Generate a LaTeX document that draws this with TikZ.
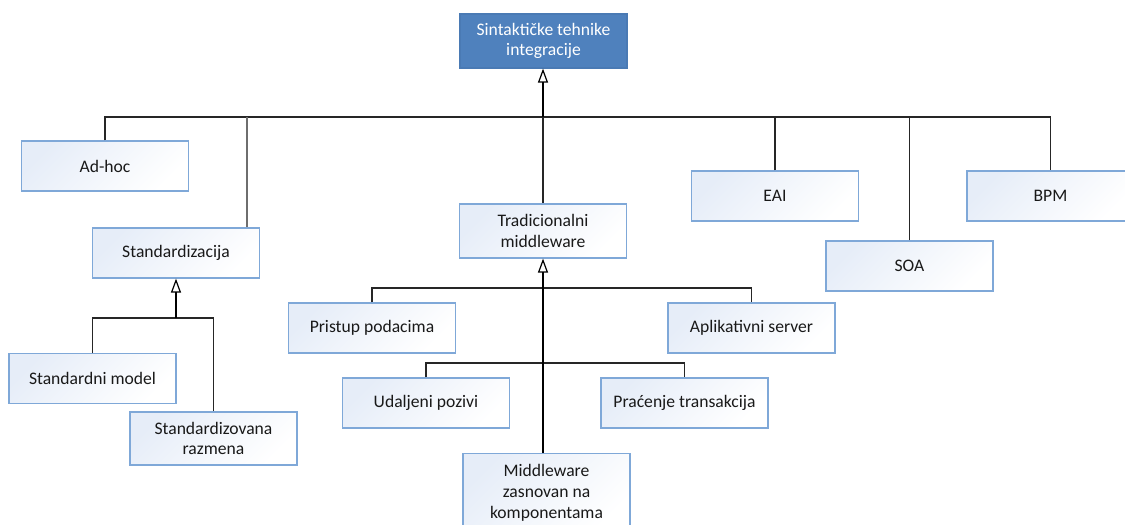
\documentclass[tikz,border=0pt]{standalone}
\usepackage{fontspec}
\setmainfont{Carlito}
\usetikzlibrary{arrows.meta}
\definecolor{boxedge}{HTML}{7FA8D8}
\definecolor{boxtint}{HTML}{E6EDF8}
\definecolor{headfill}{HTML}{4F81BD}
\definecolor{headedge}{HTML}{4A7AB4}
\definecolor{stemgray}{HTML}{6E6E6E}
\tikzset{
  box/.style={draw=boxedge, line width=0.9pt, left color=boxtint, right color=white,
    shading angle=45, minimum width=125.25pt, minimum height=37.5pt,
    inner sep=0pt, align=center, font=\fontsize{13.2}{15.5}\selectfont, text=black!90},
  tall/.style={minimum height=40.5pt},
  link/.style={draw=black!85, line width=0.9pt},
  gen/.style={draw=black, line width=1.4pt,
    -{Triangle[open, length=10.5pt, width=7.5pt, line width=0.9pt]}},
  grayline/.style={draw=stemgray, line width=1.4pt}
}
\begin{document}
\begin{tikzpicture}[x=0.75pt, y=-0.75pt]
  \useasboundingbox (0,0) rectangle (1125,525);
  \clip (0,0) rectangle (1125,525);

  % root
  \node[box, tall, draw=headedge, text=white, left color=headfill, right color=headfill]
    (top) at (543.5,41) {Sintaktičke tehnike\\integracije};

  % first level
  \node[box] (adhoc) at (105,166) {Ad-hoc};
  \node[box] (std) at (176,253) {Standardizacija};
  \node[box, tall] (trad) at (543,231) {Tradicionalni\\middleware};
  \node[box] (eai) at (775,196) {EAI};
  \node[box] (soa) at (909.5,266) {SOA};
  \node[box] (bpm) at (1050.5,196) {BPM};

  % under Standardizacija
  \node[box] (stdmodel) at (92.5,378.5) {Standardni model};
  \node[box, minimum height=39.75pt] (stdrazm) at (213.5,438.5) {Standardizovana\\razmena};

  % under Tradicionalni middleware
  \node[box] (pristup) at (372,328) {Pristup podacima};
  \node[box] (aplik) at (751.5,328) {Aplikativni server};
  \node[box] (udalj) at (426,403) {Udaljeni pozivi};
  \node[box] (pracenje) at (684.5,403) {Praćenje transakcija};
  \node[box, minimum height=59pt, anchor=north] (mw) at (546.5,453)
    {Middleware\\zasnovan na\\komponentama};

  % junction points on the buses
  \coordinate (b0) at (543,117);
  \coordinate (s0) at (247,117);
  \coordinate (b1) at (176,318);
  \coordinate (b2) at (543,288);
  \coordinate (b3) at (543,363);

  % top bus
  \draw[link] (adhoc.north) |- (b0) -| (bpm.north);
  \draw[link] (eai.north) -- (eai.north |- b0);
  \draw[link] (soa.north) -- (soa.north |- b0);
  \draw[link] (b0) -- (b0 |- trad.north);
  \draw[grayline] (s0) -- (s0 |- std.north);
  \draw[gen] (b0) -- (b0 |- top.south);

  % Standardizacija branch
  \draw[link] (stdmodel.north) |- (b1) -| (stdrazm.north);
  \draw[gen] (b1) -- (b1 |- std.south);

  % Tradicionalni middleware branch
  \draw[link] (pristup.north) |- (b2) -| (aplik.north);
  \draw[link] (udalj.north) |- (b3) -| (pracenje.north);
  \draw[link, line width=1.4pt, draw=black] (b2) -- (b2 |- mw.north);
  \draw[gen] (b2) -- (b2 |- trad.south);
\end{tikzpicture}
\end{document}
